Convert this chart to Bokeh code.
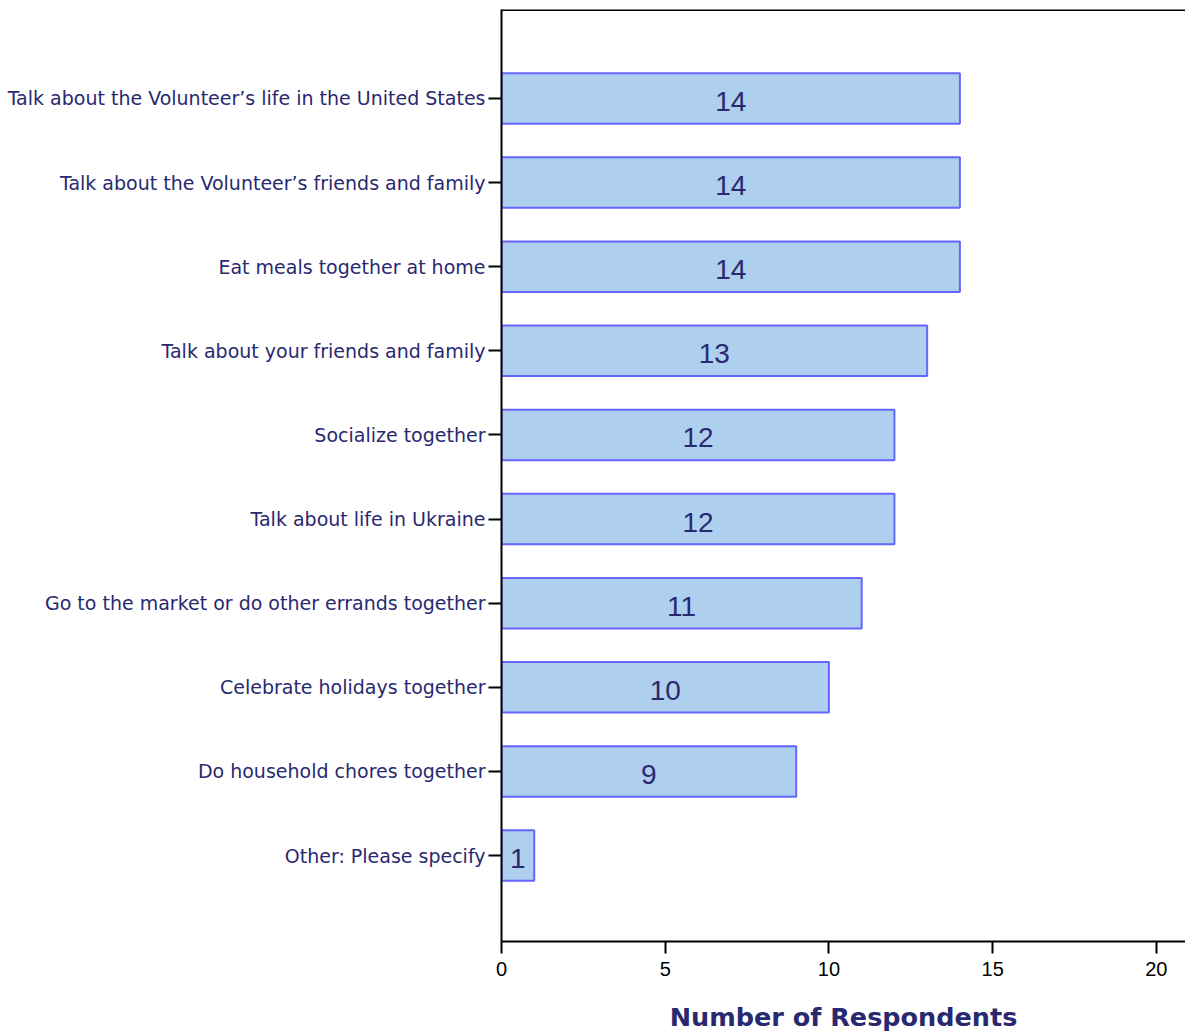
from bokeh.plotting import figure
from bokeh.models import ColumnDataSource, FixedTicker, Range1d, Span, LabelSet
from bokeh.core.properties import value
from bokeh.embed import file_html
from bokeh.resources import INLINE

categories = [
    "Other: Please specify",
    "Do household chores together",
    "Celebrate holidays together",
    "Go to the market or do other errands together",
    "Talk about life in Ukraine",
    "Socialize together",
    "Talk about your friends and family",
    "Eat meals together at home",
    "Talk about the Volunteer\u2019s friends and family",
    "Talk about the Volunteer\u2019s life in the United States",
]
counts = [1, 9, 10, 11, 12, 12, 13, 14, 14, 14]
x_ticks = [0, 5, 10, 15, 20]

NAVY = "#29296F"
FILL = "#AECFED"
EDGE = "#6666FF"

pos = list(range(len(categories)))
src = ColumnDataSource(dict(
    y=pos,
    right=counts,
    mid=[c / 2 for c in counts],
    lab=[str(c) for c in counts],
))

Y0, Y1 = -1.021, 10.057
p = figure(width=1185, height=1034, output_backend="svg", toolbar_location=None,
           x_range=Range1d(0, 20.89), y_range=Range1d(Y0, Y1),
           min_border_left=501, min_border_right=0, min_border_top=9, min_border_bottom=92)
p.outline_line_color = None
p.xgrid.visible = False
p.ygrid.visible = False
p.background_fill_color = "white"
p.border_fill_color = "white"

p.hbar(y="y", left=0, right="right", height=0.6, source=src,
       fill_color=FILL, line_color=EDGE, line_width=2)

labels = LabelSet(x="mid", y="y", text="lab", source=src, text_align="center",
                  text_baseline="middle", y_offset=-3, text_color=NAVY,
                  text_font=value("Liberation Sans"), text_font_size=value("28px"))
p.add_layout(labels)

p.add_layout(Span(location=Y1, dimension="width", line_color="black", line_width=3))

# x axis
xa = p.xaxis[0]
xa.ticker = FixedTicker(ticks=x_ticks)
xa.minor_tick_line_color = None
xa.major_tick_in = 0
xa.major_tick_out = 12
xa.major_tick_line_width = 2
xa.axis_line_width = 2
xa.major_label_standoff = 8
xa.major_label_text_font = "Liberation Sans"
xa.major_label_text_font_size = "20px"
xa.major_label_text_color = "black"
xa.axis_label = "Number of Respondents"
xa.axis_label_text_font = "DejaVu Sans"
xa.axis_label_text_font_style = "bold"
xa.axis_label_text_font_size = "25.5px"
xa.axis_label_text_color = NAVY
xa.axis_label_standoff = 23

# y axis
ya = p.yaxis[0]
ya.ticker = FixedTicker(ticks=pos)
ya.major_label_overrides = {i: c for i, c in zip(pos, categories)}
ya.minor_tick_line_color = None
ya.major_tick_in = 0
ya.major_tick_out = 13
ya.major_tick_line_width = 2
ya.axis_line_width = 2
ya.major_label_standoff = 3
ya.major_label_text_font = "DejaVu Sans"
ya.major_label_text_font_size = "19px"
ya.major_label_text_color = NAVY

open("out.html", "w").write(file_html(p, INLINE))
